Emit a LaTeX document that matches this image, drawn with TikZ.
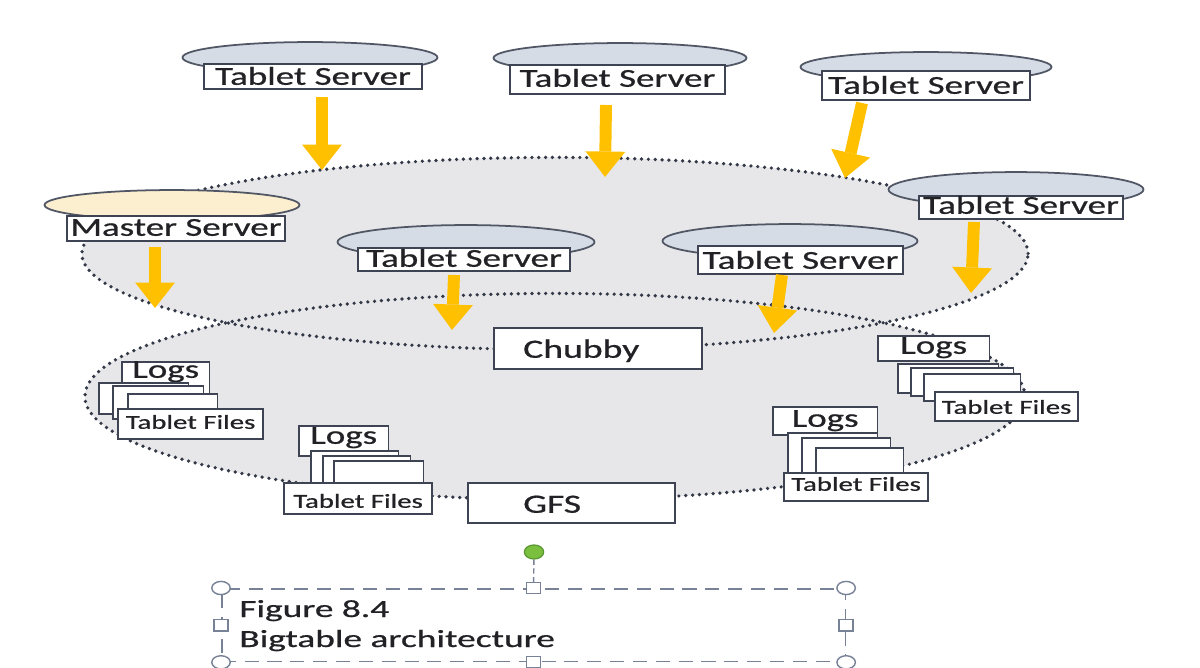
\documentclass[tikz,border=0pt]{standalone}
\usepackage{fontspec}
\setmainfont{Carlito}[FakeBold=0.6]
\usetikzlibrary{shapes.geometric,arrows.meta}
\definecolor{areac}{RGB}{231,231,234}
\definecolor{dotc}{RGB}{50,56,70}
\definecolor{tsfill}{RGB}{213,220,230}
\definecolor{msfill}{RGB}{252,239,208}
\definecolor{elldraw}{RGB}{80,86,100}
\definecolor{boxdraw}{RGB}{62,68,84}
\definecolor{txtc}{RGB}{34,34,38}
\definecolor{arrowc}{RGB}{255,192,0}
\definecolor{handc}{RGB}{120,130,150}
\definecolor{greenh}{RGB}{122,192,62}
\definecolor{greend}{RGB}{90,150,50}

\newcommand{\hx}[2][1.43]{\scalebox{#1}[1]{#2}}
\newcommand{\tsfont}{\fontsize{14.7}{16}\selectfont}
\newcommand{\tffont}{\fontsize{11.3}{13}\selectfont}
\newcommand{\cbfont}{\fontsize{15}{17}\selectfont}
\newcommand{\capfont}{\fontsize{14}{17}\selectfont}

\newcommand{\dbox}[7]{%
  \pgfmathsetmacro\dbW{(#4-#2)*0.56693}%
  \pgfmathsetmacro\dbH{(#6-#3)*0.56693}%
  \pgfmathsetmacro\dbD{(#5-#6)*0.56693}%
  \node[box, anchor=north west, minimum width=\dbW pt, text height=\dbH pt, text depth=\dbD pt] (#1) at (#2,#3) {#7};}
\newcommand{\dell}[6]{%
  \pgfmathsetmacro\dbW{2*#5*0.56693}%
  \pgfmathsetmacro\dbH{2*#6*0.56693}%
  \node[#1, minimum width=\dbW pt, minimum height=\dbH pt] (#2) at (#3,#4) {};}

\tikzset{
 box/.style={draw=boxdraw, fill=white, line width=1pt, inner sep=0pt, text=txtc},
 tsell/.style={ellipse, draw=elldraw, fill=tsfill, line width=1pt, inner sep=0pt},
 msell/.style={tsell, fill=msfill},
 area/.style={ellipse, inner sep=0pt},
 areafill/.style={area, fill=areac},
 arealine/.style={area, draw=dotc, line width=2.1pt, dash pattern=on 0pt off 3.9pt, line cap=round},
 bigarrow/.style={draw=arrowc, line width=6.8pt, -{Triangle[width=22.7pt,length=14.5pt,line width=0pt]}},
 hcirc/.style={ellipse, draw=handc, fill=white, line width=0.8pt, minimum width=10.5pt, minimum height=7.5pt, inner sep=0pt},
 hsq/.style={rectangle, draw=handc, fill=white, line width=0.8pt, minimum width=8pt, minimum height=6.5pt, inner sep=0pt},
 rotc/.style={ellipse, draw=greend, fill=greenh, line width=0.7pt, minimum width=11pt, minimum height=8pt, inner sep=0pt},
 capframe/.style={draw=handc, line width=0.9pt, dash pattern=on 8pt off 5pt, inner sep=0pt},
 captext/.style={text=txtc, inner sep=0pt, font=\capfont},
}

\begin{document}
\begin{tikzpicture}[x=0.02cm, y=-0.02cm]
\useasboundingbox (0,0) rectangle (1200,668);
\fill[white] (0,0) rectangle (1200,668);

% shaded areas
\dell{areafill}{upper}{555}{253.5}{475}{96.5}
\dell{areafill}{lower}{555}{396.5}{472}{103.5}
\dell{arealine}{upperline}{555}{253.5}{475}{96.5}
\dell{arealine}{lowerline}{555}{396.5}{472}{103.5}

% servers
\dell{tsell}{e1}{310}{57.5}{128}{15.5}
\dbox{ts1}{203}{63}{422}{88}{84}{\tsfont\hx{Tablet Server}}
\dell{tsell}{e2}{620}{58}{127}{15}
\dbox{ts2}{509}{64}{725}{93}{86}{\tsfont\hx{Tablet Server}}
\dell{tsell}{e3}{926}{67}{126}{15}
\dbox{ts3}{821}{70}{1030}{99}{93}{\tsfont\hx{Tablet Server}}
\dell{tsell}{e4}{1016}{189.5}{128}{17.5}
\dbox{ts4}{918}{195}{1123}{218}{213}{\tsfont\hx{Tablet Server}}
\dell{msell}{em}{172}{205}{128}{15}
\dbox{ms}{66}{215}{285}{240}{235}{\tsfont\hx{Master Server}}
\dell{tsell}{e5}{466}{242}{129}{17}
\dbox{ts5}{357}{247}{570}{270}{266}{\tsfont\hx{Tablet Server}}
\dell{tsell}{e6}{790}{241}{128}{17}
\dbox{ts6}{697}{245}{903}{273}{268}{\tsfont\hx{Tablet Server}}

% Chubby and GFS
\dbox{chubby}{493}{327}{702}{368}{357}{\cbfont\hx{Chubby}\hspace*{19pt}}
\dbox{gfs}{467}{482}{675}{522}{512}{\cbfont\hx{GFS}\hspace*{22pt}}

% stack A
\dbox{logsA}{121}{361}{209}{395}{377}{\tsfont\hx{Logs}}
\dbox{a1}{98}{382}{188}{413}{400}{}
\dbox{a2}{112}{385}{203}{418}{400}{}
\dbox{a3}{127}{393}{217}{420}{405}{}
\dbox{tfA}{117}{408}{263}{438}{428}{\tffont\hx[1.45]{Tablet Files}}
% stack B
\dbox{logsB}{298}{425}{388}{455}{443}{\tsfont\hx{Logs}}
\dbox{b1}{310}{450}{398}{490}{470}{}
\dbox{b2}{322}{455}{410}{490}{470}{}
\dbox{b3}{333}{460}{423}{490}{470}{}
\dbox{tfB}{283}{482}{432}{513}{507}{\tffont\hx[1.45]{Tablet Files}}
% stack C
\dbox{logsC}{877}{335}{989}{360}{353}{\tsfont\hx{Logs}}
\dbox{c1}{897}{363}{998}{392}{380}{}
\dbox{c2}{910}{367}{1013}{395}{380}{}
\dbox{c3}{923}{373}{1020}{400}{390}{}
\dbox{tfC}{934}{391}{1078}{420}{413}{\tffont\hx[1.45]{Tablet Files}}
% stack D
\dbox{logsD}{772}{406}{877}{434}{426}{\tsfont\hx{Logs}}
\dbox{d1}{787}{432}{877}{475}{450}{}
\dbox{d2}{801}{437}{890}{478}{450}{}
\dbox{d3}{815}{447}{903}{478}{460}{}
\dbox{tfD}{783}{472}{928}{500}{490}{\tffont\hx[1.45]{Tablet Files}}

% arrows
\coordinate (a1s) at (322,97);  \coordinate (a1t) at (322,170);
\coordinate (a2s) at (606,105); \coordinate (a2t) at (605,177);
\coordinate (a3s) at (862,103); \coordinate (a3t) at (845,178);
\coordinate (a4s) at (974,222); \coordinate (a4t) at (971,293);
\coordinate (a5s) at (155,247); \coordinate (a5t) at (155,308);
\coordinate (a6s) at (454,275); \coordinate (a6t) at (452,330);
\coordinate (a7s) at (782,275); \coordinate (a7t) at (774,333);
\foreach \i in {1,...,7}{\draw[bigarrow] (a\i s) -- (a\i t);}

% caption frame
\node[capframe, anchor=north west, minimum width=354.9pt, minimum height=41.4pt] (capbox) at (221,588) {};
\node[rotc] (rot) at (534,552) {};
\draw[handc, line width=0.8pt, dash pattern=on 3pt off 2pt] (rot) -- (capbox.north);
\node[hcirc] (hnw) at (capbox.north west) {};
\node[hcirc] (hne) at (capbox.north east) {};
\node[hcirc] (hsw) at (capbox.south west) {};
\node[hcirc] (hse) at (capbox.south east) {};
\node[hsq] (hn) at (capbox.north) {};
\node[hsq] (hs) at (capbox.south) {};
\node[hsq] (hw) at (capbox.west) {};
\node[hsq] (he) at (capbox.east) {};
\node[captext, anchor=base west] (cap1) at (239,617) {\hx[1.52]{Figure 8.4}};
\node[captext, anchor=base west] (cap2) at (239,647) {\hx[1.52]{Bigtable architecture}};
\end{tikzpicture}
\end{document}
